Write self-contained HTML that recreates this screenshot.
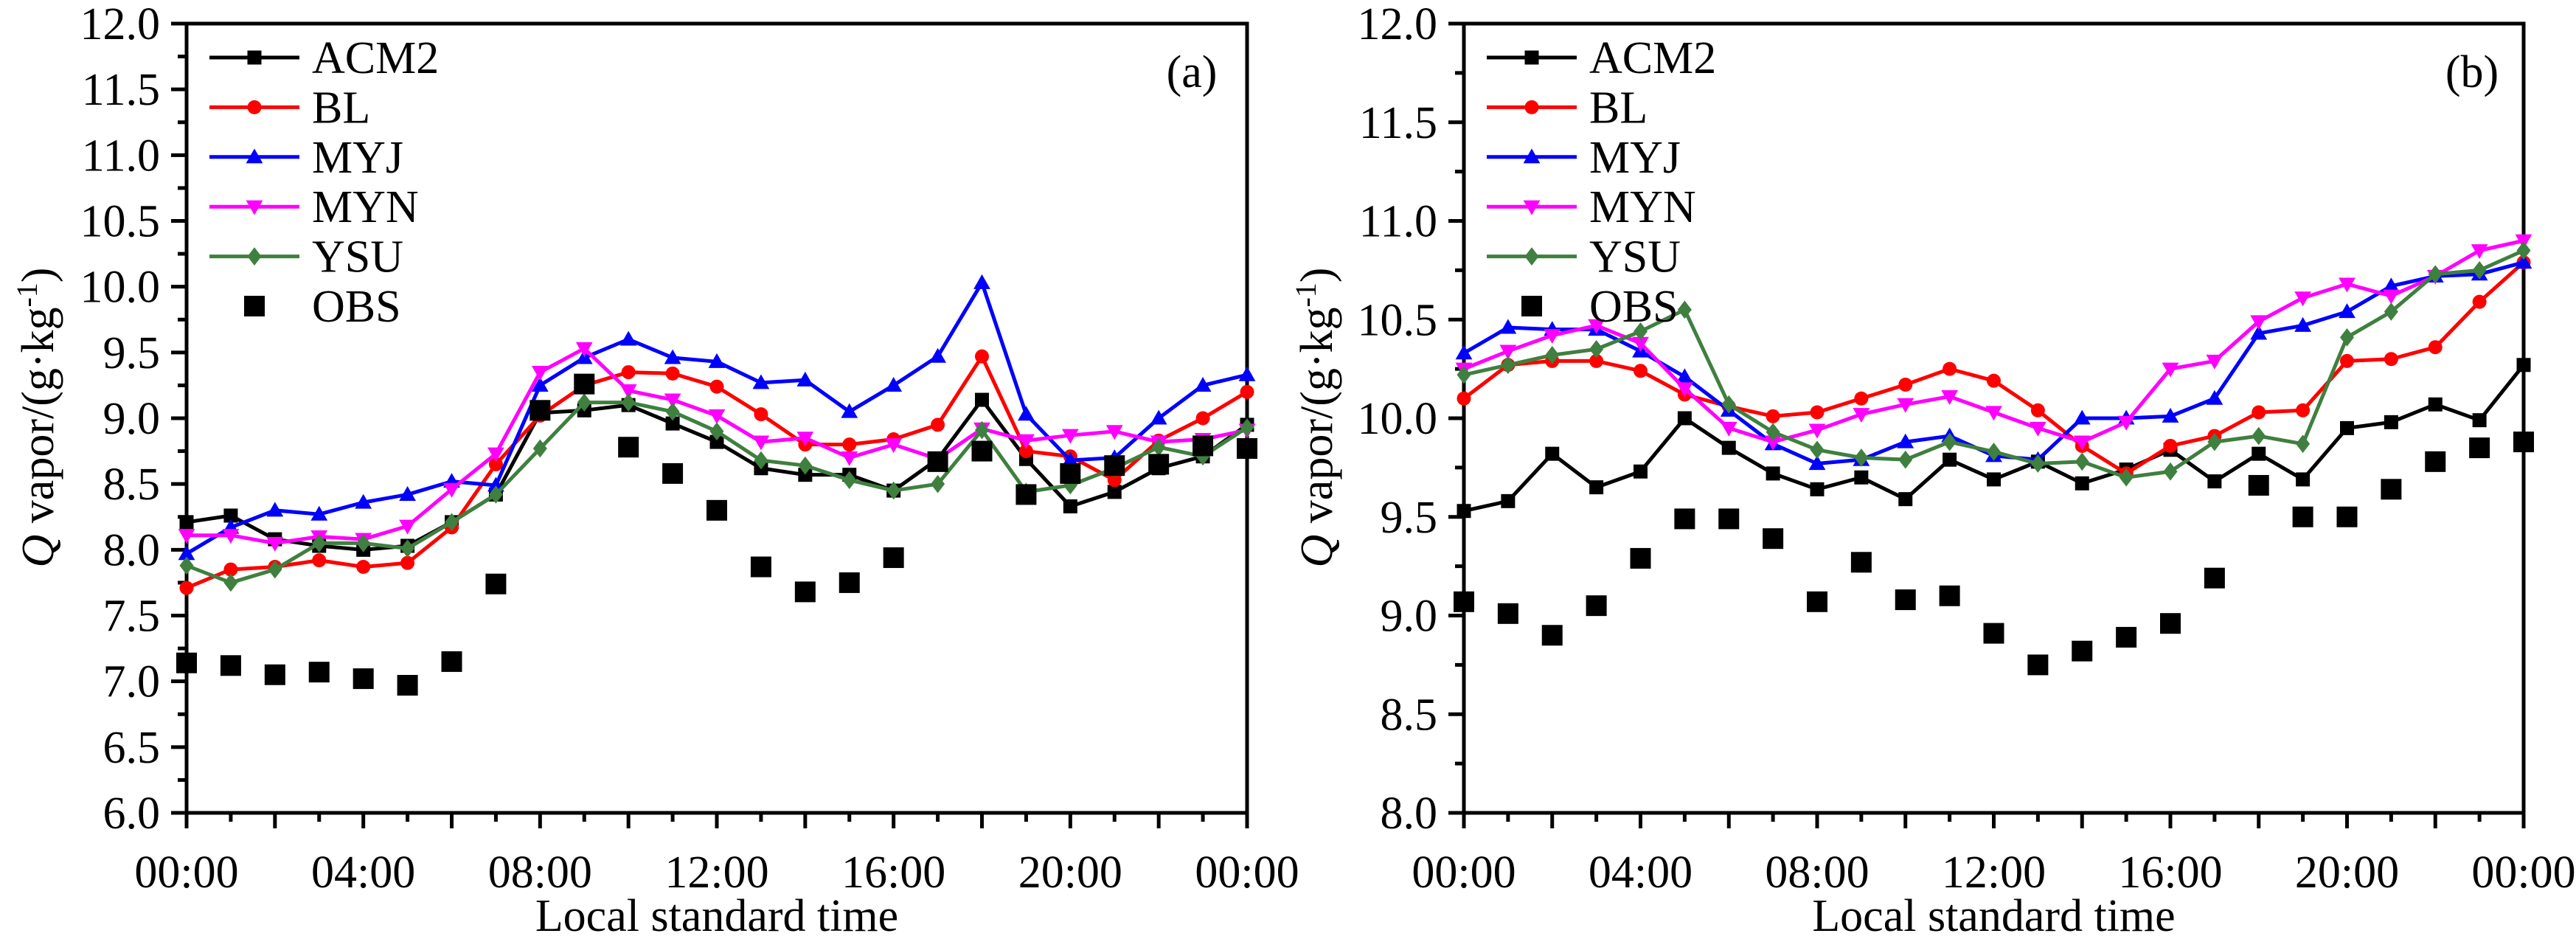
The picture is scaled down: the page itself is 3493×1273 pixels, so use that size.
<!DOCTYPE html>
<html><head><meta charset="utf-8"><style>
html,body{margin:0;padding:0;background:#fff;}
text,tspan{font-family:"Liberation Serif","Times New Roman",serif !important;}
</style></head><body>
<svg id="chart" width="3493" height="1268" xmlns="http://www.w3.org/2000/svg" font-family="Liberation Serif, serif">
</svg>
<script>
const hours = [0,1,2,3,4,5,6,7,8,9,10,11,12,13,14,15,16,17,18,19,20,21,22,23,24];
const xTickLabels = ["00:00","04:00","08:00","12:00","16:00","20:00","00:00"];
const seriesNames = ["ACM2","BL","MYJ","MYN","YSU","OBS"];
const a_ACM2 = [8.21,8.26,8.08,8.03,8.0,8.03,8.21,8.42,9.04,9.06,9.1,8.96,8.82,8.62,8.57,8.57,8.45,8.69,9.14,8.69,8.33,8.44,8.62,8.71,8.95];
const a_BL = [7.71,7.85,7.87,7.92,7.87,7.9,8.17,8.65,9.02,9.25,9.35,9.34,9.24,9.03,8.8,8.8,8.84,8.95,9.47,8.75,8.71,8.53,8.83,9.0,9.2];
const a_MYJ = [7.97,8.17,8.3,8.27,8.36,8.42,8.52,8.49,9.25,9.46,9.6,9.46,9.43,9.27,9.29,9.05,9.25,9.47,10.03,9.03,8.68,8.7,9.0,9.25,9.33];
const a_MYN = [8.11,8.11,8.05,8.1,8.08,8.18,8.46,8.73,9.35,9.53,9.21,9.14,9.02,8.82,8.85,8.7,8.8,8.69,8.92,8.83,8.87,8.9,8.82,8.84,8.91];
const a_YSU = [7.88,7.75,7.85,8.05,8.05,8.01,8.21,8.42,8.77,9.12,9.12,9.05,8.9,8.68,8.64,8.53,8.45,8.5,8.91,8.44,8.49,8.62,8.78,8.71,8.93];
const a_OBS = [7.14,7.12,7.05,7.07,7.02,6.97,7.15,7.74,9.06,9.26,8.78,8.58,8.3,7.87,7.68,7.75,7.94,8.67,8.75,8.42,8.58,8.64,8.65,8.79,8.77];
const b_ACM2 = [9.53,9.58,9.82,9.65,9.73,10.0,9.85,9.72,9.64,9.7,9.59,9.79,9.69,9.78,9.67,9.74,9.84,9.68,9.82,9.69,9.95,9.98,10.07,9.99,10.27];
const b_BL = [10.1,10.27,10.29,10.29,10.24,10.12,10.06,10.01,10.03,10.1,10.17,10.25,10.19,10.04,9.86,9.72,9.86,9.91,10.03,10.04,10.29,10.3,10.36,10.59,10.79];
const b_MYJ = [10.33,10.46,10.45,10.45,10.34,10.21,10.04,9.87,9.77,9.79,9.88,9.91,9.81,9.79,10.0,10.0,10.01,10.1,10.43,10.47,10.54,10.67,10.72,10.73,10.79];
const b_MYN = [10.25,10.34,10.42,10.47,10.38,10.15,9.95,9.88,9.94,10.02,10.07,10.11,10.03,9.95,9.88,9.98,10.25,10.29,10.49,10.61,10.68,10.62,10.72,10.85,10.9];
const b_YSU = [10.22,10.27,10.32,10.35,10.44,10.55,10.07,9.93,9.84,9.8,9.79,9.88,9.83,9.77,9.78,9.7,9.73,9.88,9.91,9.87,10.41,10.54,10.73,10.75,10.85];
const b_OBS = [9.07,9.01,8.9,9.05,9.29,9.49,9.49,9.39,9.07,9.27,9.08,9.1,8.91,8.75,8.82,8.89,8.96,9.19,9.66,9.5,9.5,9.64,9.78,9.85,9.88];
const a_yTicks = ["6.0","6.5","7.0","7.5","8.0","8.5","9.0","9.5","10.0","10.5","11.0","11.5","12.0"];
const b_yTicks = ["8.0","8.5","9.0","9.5","10.0","10.5","11.0","11.5","12.0"];

const NS="http://www.w3.org/2000/svg";
const svg=document.getElementById('chart');
const FF='Liberation Serif, Times New Roman, serif';
function mk(tag,attrs,parent){const e=document.createElementNS(NS,tag);for(const k in attrs)e.setAttribute(k,attrs[k]);if(tag==='text')e.setAttribute('font-family',FF);(parent||svg).appendChild(e);return e;}
const colors={ACM2:"#000000",BL:"#ff0000",MYJ:"#0000ff",MYN:"#ff00ff",YSU:"#3f7f3f",OBS:"#000000"};
function marker(type,x,y,s,col,g){
  let e;
  if(type==="ACM2"){e=mk('rect',{x:x-s/2,y:y-s/2,width:s,height:s,fill:col},g);}
  else if(type==="BL"){e=mk('circle',{cx:x,cy:y,r:s/2,fill:col},g);}
  else if(type==="MYJ"){e=mk('polygon',{points:`${x},${y-s*0.6} ${x-s*0.6},${y+s*0.45} ${x+s*0.6},${y+s*0.45}`,fill:col},g);}
  else if(type==="MYN"){e=mk('polygon',{points:`${x},${y+s*0.6} ${x-s*0.6},${y-s*0.45} ${x+s*0.6},${y-s*0.45}`,fill:col},g);}
  else if(type==="YSU"){e=mk('polygon',{points:`${x},${y-s*0.65} ${x+s*0.5},${y} ${x},${y+s*0.65} ${x-s*0.5},${y}`,fill:col},g);}
  else {e=mk('rect',{x:x-s/2,y:y-s/2,width:s,height:s,fill:col},g);}
  return e;
}
function panel(p){
  const g=mk('g',{});
  
  
  const L=p.left,R=p.right,T=32,B=1102;
  const xs=h=>L+(h-0)/24*(R-L);
  const ys=v=>B-(v-p.ymin)/(p.ymax-p.ymin)*(B-T);
  const fr=mk('rect',{x:L,y:T,width:R-L,height:B-T,fill:'none',stroke:'#000','stroke-width':5},g);
  
  
  const nMaj=p.yTicks.length;
  for(let i=0;i<nMaj;i++){
    const v=p.ymin+i*0.5, y=ys(v);
    mk('line',{x1:L-21,y1:y,x2:L,y2:y,stroke:'#000','stroke-width':5},g);
    if(i<nMaj-1){const ym=ys(v+0.25);mk('line',{x1:L-12,y1:ym,x2:L,y2:ym,stroke:'#000','stroke-width':5},g);}
    const t=mk('text',{x:L-36,y:y+21,'font-size':62,'text-anchor':'end'},g);
    t.textContent=p.yTicks[i];
    
    
  }
  for(let h=0;h<=24;h++){
    const x=xs(h);
    mk('line',{x1:x,y1:B,x2:x,y2:B+(h%2===0?21:12),stroke:'#000','stroke-width':5},g);
  }
  xTickLabels.forEach((lab,i)=>{
    const t=mk('text',{x:xs(i*4),y:1203,'font-size':62,'text-anchor':'middle'},g);
    t.textContent=lab;
    
    
  });
  const xt=mk('text',{x:(L+R)/2,y:1262,'font-size':62,'text-anchor':'middle'},g);
  xt.textContent='Local standard time';
  
  
  const yt=mk('text',{x:0,y:0,'font-size':62,'text-anchor':'middle',transform:`translate(${p.ytx},566) rotate(-90)`},g);
  yt.innerHTML='<tspan font-style="italic">Q</tspan> vapor/(g·kg<tspan font-size="40" dy="-22">-1</tspan><tspan dy="22">)</tspan>';
  
  
  const pl=mk('text',{x:p.labX,y:118,'font-size':62,'text-anchor':'middle'},g);
  pl.textContent=p.label;
  
  
  seriesNames.forEach((nm,k)=>{
    const data=p.data[k];const col=colors[nm];
    const sg=mk('g',{},g);
    
    
    if(nm!=="OBS"){
      const pts=data.map((v,i)=>xs(hours[i])+','+ys(v)).join(' ');
      mk('polyline',{points:pts,fill:'none',stroke:col,'stroke-width':5,'stroke-linejoin':'round'},sg);
      data.forEach((v,i)=>{const m=marker(nm,xs(hours[i]),ys(v),19,col,sg);
        
        });
    } else {
      data.forEach((v,i)=>{const m=marker(nm,xs(hours[i]),ys(v),28,col,sg);
        
        });
    }
  });
  const lg=mk('g',{},g);
  
  
  seriesNames.forEach((nm,k)=>{
    const y=78+k*67.4;const col=colors[nm];
    const eg=mk('g',{},lg);
    
    
    if(nm!=="OBS"){
      mk('line',{x1:L+31,y1:y,x2:L+153,y2:y,stroke:col,'stroke-width':5},eg);
      marker(nm,L+92,y,19,col,eg);
    } else marker(nm,L+92,y,28,col,eg);
    const t=mk('text',{x:L+170,y:y+21,'font-size':62},eg);
    t.textContent=nm;
  });
}
panel({name:'panel-a',left:253,right:1691,ymin:6,ymax:12,yTicks:a_yTicks,ytx:72,labX:1616,label:'(a)',data:[a_ACM2,a_BL,a_MYJ,a_MYN,a_YSU,a_OBS]});
panel({name:'panel-b',left:1985,right:3422,ymin:8,ymax:12,yTicks:b_yTicks,ytx:1806,labX:3352,label:'(b)',data:[b_ACM2,b_BL,b_MYJ,b_MYN,b_YSU,b_OBS]});
</script>
</body></html>
